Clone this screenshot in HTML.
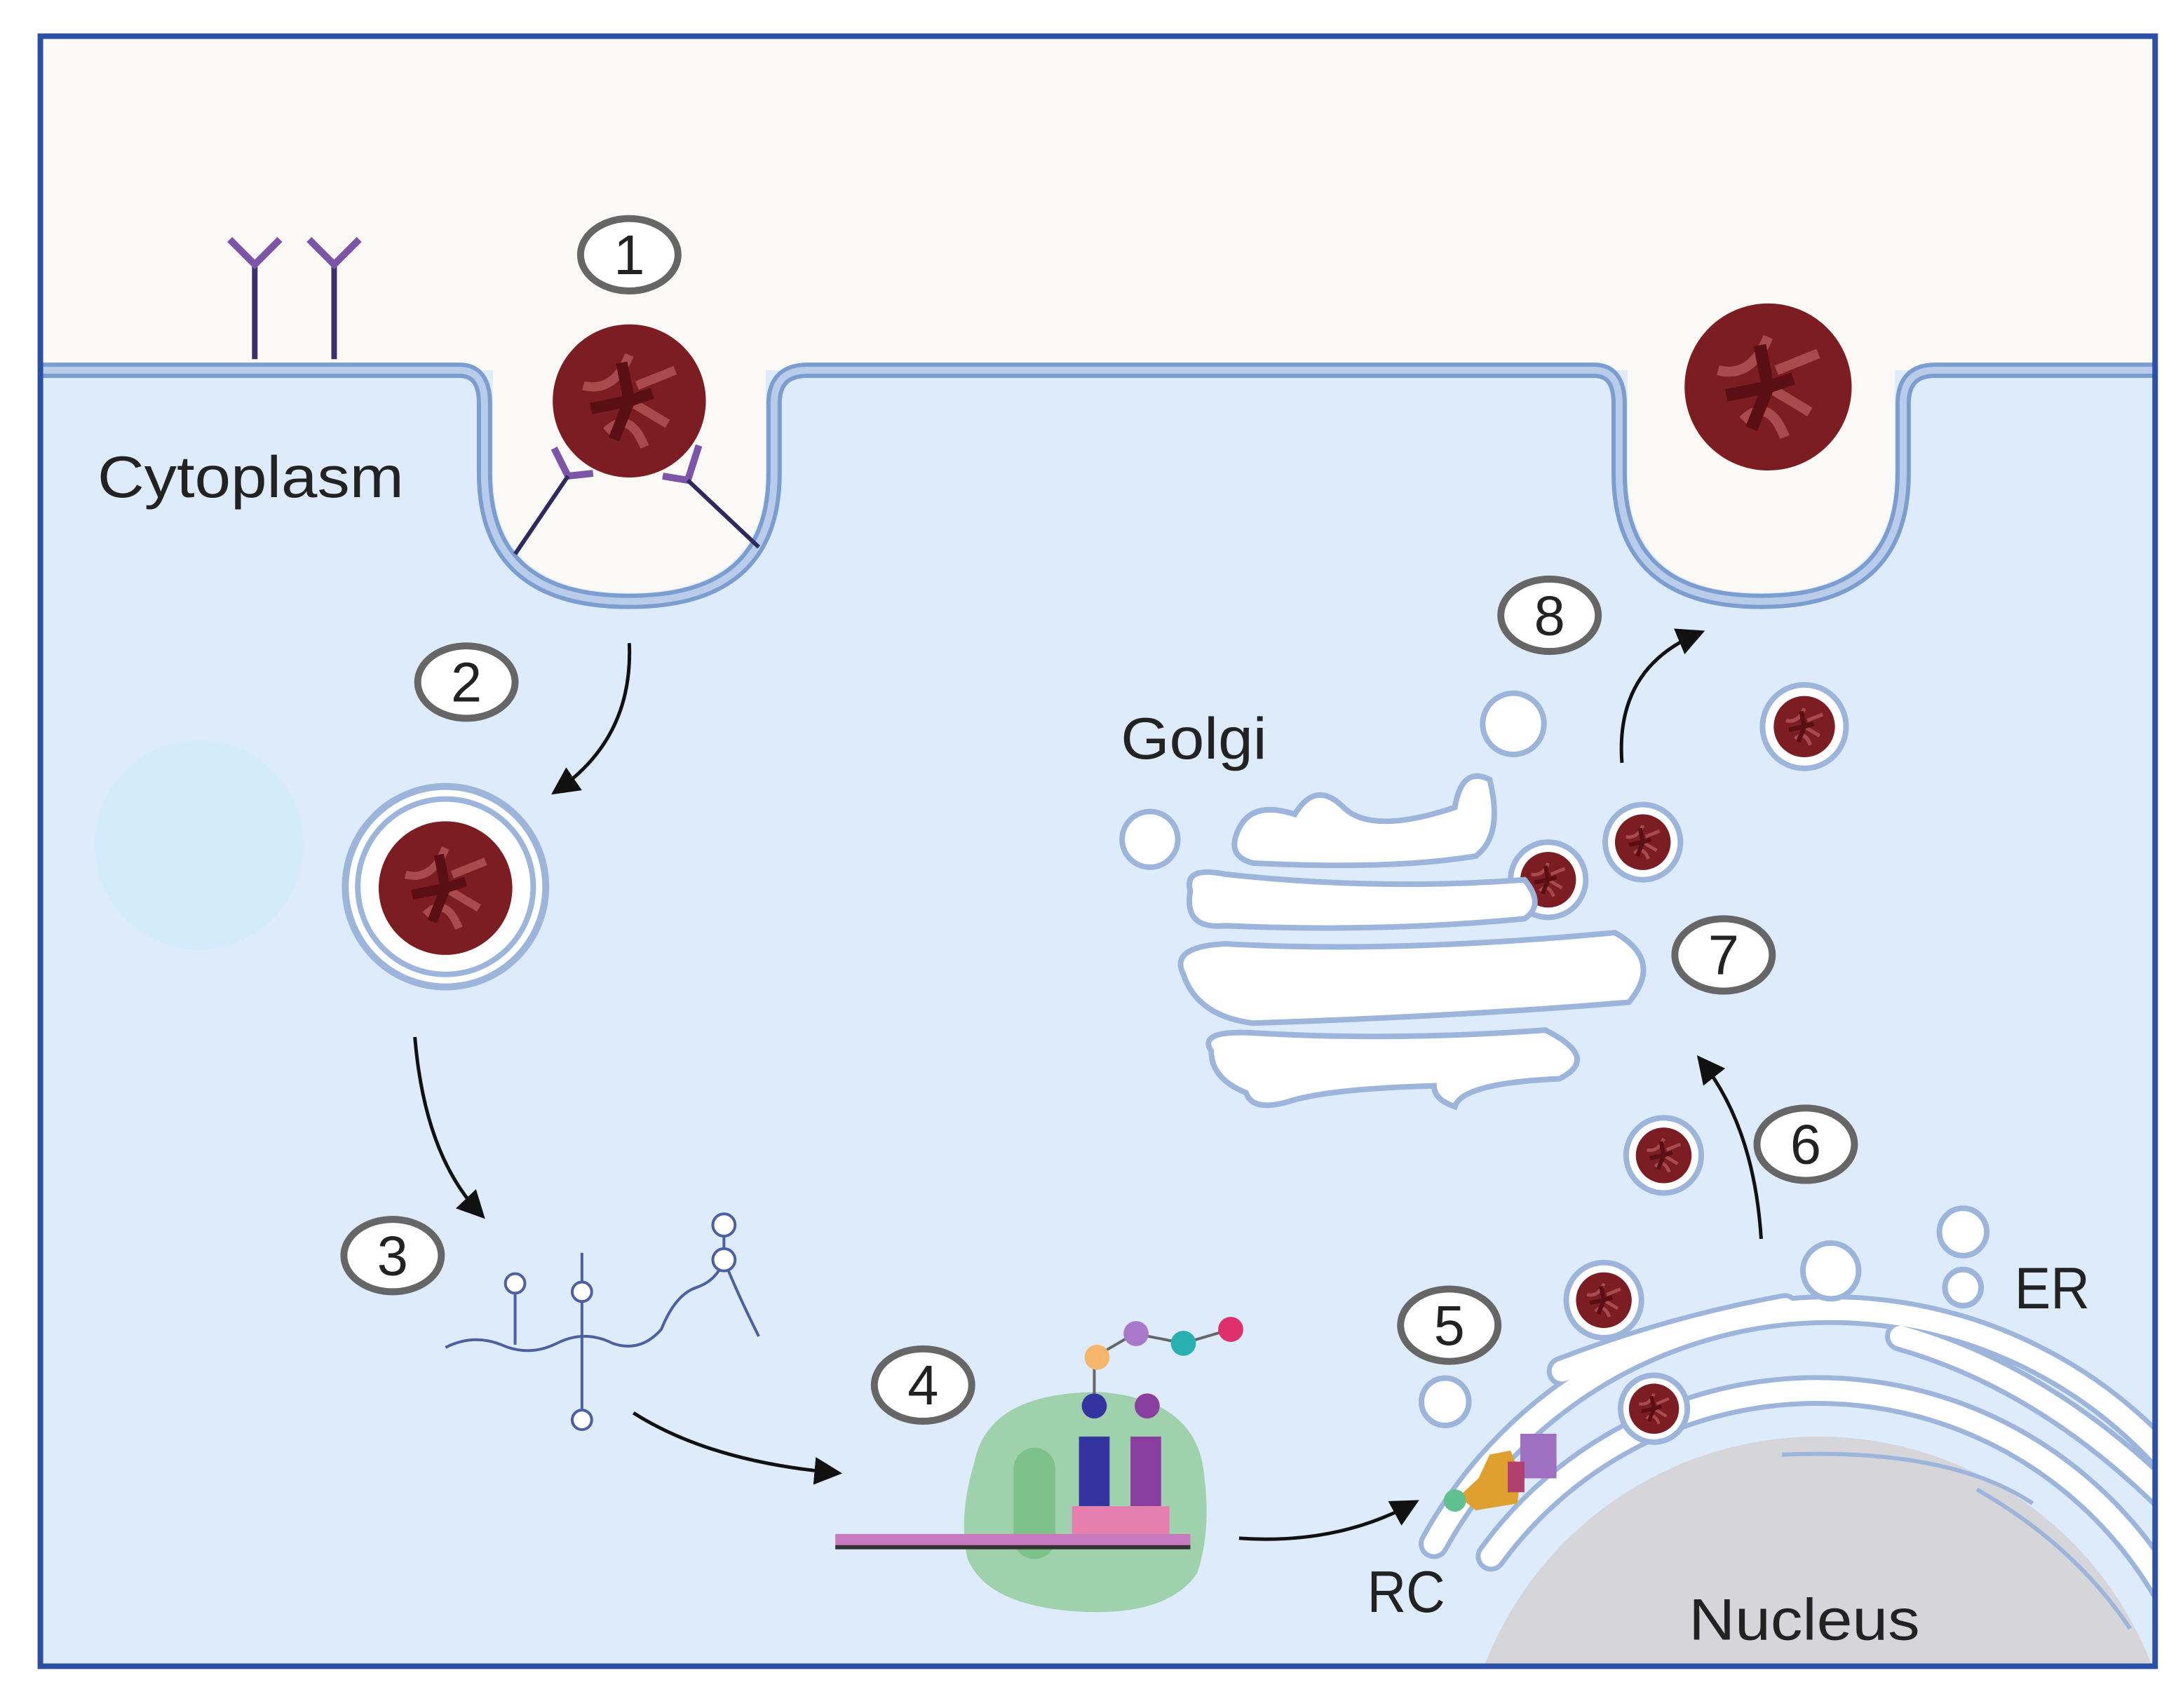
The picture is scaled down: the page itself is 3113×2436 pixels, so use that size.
<!DOCTYPE html>
<html><head><meta charset="utf-8"><style>html,body{margin:0;padding:0;background:#fff;overflow:hidden;width:3113px;height:2436px}svg{display:block}</style></head>
<body>
<svg width="3113" height="2436" viewBox="0 0 1568 1227" xmlns="http://www.w3.org/2000/svg" font-family="Liberation Sans, sans-serif">
<defs>
<marker id="ah" markerWidth="8" markerHeight="8" refX="6" refY="4" orient="auto" markerUnits="strokeWidth"><path d="M0,0 L8,4 L0,8 Z" fill="#111"/></marker>
<g id="virus"><circle r="1" fill="#7b1d22"/><path d="M-0.6,-0.2 Q-0.2,-0.1 0,-0.6 M0,0 L0.5,0.3 M-0.3,0.4 Q0,0.1 0.2,0.6 M0.1,-0.2 L0.6,-0.4" stroke="#a84a4e" stroke-width="0.12" fill="none"/><path d="M-0.5,0.1 L0,0 L0.3,-0.1 M-0.1,-0.5 L0,0 L-0.2,0.5" stroke="#5a0f14" stroke-width="0.15" fill="none"/></g>
<clipPath id="cl"><rect x="29" y="26" width="1519" height="1169"/></clipPath>
</defs>
<rect x="0" y="0" width="1568" height="1227" fill="#fff"/>
<rect x="29" y="26" width="1519" height="1171" fill="#deebfb"/>
<rect x="29" y="26" width="1519" height="240" fill="#fbf9f5"/>
<path d="M354,260 V340 Q354,426 452,426 Q550,426 550,340 V260 Z" fill="#fbf9f5"/>
<path d="M1169,260 V340 Q1169,426 1265,426 Q1361,426 1361,340 V260 Z" fill="#fbf9f5"/>
<!-- membrane -->
<path d="M29,266 H330 Q348,266 348,290 V340 Q348,432 452,432 Q556,432 556,340 V290 Q556,266 580,266 H1145 Q1163,266 1163,290 V340 Q1163,432 1265,432 Q1367,432 1367,340 V290 Q1367,266 1390,266 H1548" fill="none" stroke="#7c9dcf" stroke-width="11"/>
<path d="M29,266 H330 Q348,266 348,290 V340 Q348,432 452,432 Q556,432 556,340 V290 Q556,266 580,266 H1145 Q1163,266 1163,290 V340 Q1163,432 1265,432 Q1367,432 1367,340 V290 Q1367,266 1390,266 H1548" fill="none" stroke="#b9cdea" stroke-width="5"/>
<!-- receptors -->
<g stroke="#3c2f6b" stroke-width="4" fill="none">
<path d="M183,258 V190 M240,258 V190"/>
</g>
<g stroke="#7c55a8" stroke-width="5" fill="none">
<path d="M165,172 L183,190 L201,172 M222,172 L240,190 L258,172"/>
<path d="M398,322 L408,342 L426,340 M502,320 L494,345 L476,342"/>
</g>
<path d="M370,398 L408,342 M545,393 L494,345" stroke="#2e2a5e" stroke-width="3"/>
<use href="#virus" transform="translate(452,288) scale(55)"/>
<use href="#virus" transform="translate(1270,278) scale(60)"/>
<circle cx="143" cy="607" r="75" fill="#d3ebfb"/>
<!-- endosome -->
<circle cx="320" cy="637" r="72" fill="#fff" stroke="#9db5da" stroke-width="5"/>
<circle cx="320" cy="637" r="63" fill="#fff" stroke="#9db5da" stroke-width="4"/>
<use href="#virus" transform="translate(320,638) scale(48)"/>
<!-- RNA -->
<g stroke="#4c5fa2" stroke-width="2" fill="none">
<path d="M320,968 Q340,958 360,966 Q380,975 400,965 Q420,955 440,965 Q460,972 475,955 Q485,930 500,925 Q515,920 520,905 M520,905 Q530,930 545,960"/>
<path d="M370,966 V930 M418,900 V1020 M520,905 V880"/>
<circle cx="370" cy="922" r="7" fill="#fff"/><circle cx="418" cy="928" r="7" fill="#fff"/><circle cx="418" cy="1020" r="7" fill="#fff"/><circle cx="520" cy="880" r="8" fill="#fff"/><circle cx="520" cy="905" r="8" fill="#fff"/>
</g>
<!-- ribosome -->
<path d="M700,1050 Q710,1000 790,1000 Q860,1005 865,1060 Q870,1100 860,1130 Q840,1160 780,1158 Q710,1155 695,1120 Q688,1090 700,1050 Z" fill="#8fcb9a" opacity="0.8"/>
<rect x="728" y="1040" width="30" height="80" rx="15" fill="#7ec28b"/>
<rect x="600" y="1102" width="255" height="10" fill="#c87ac0"/>
<rect x="600" y="1110" width="255" height="3" fill="#333"/>
<rect x="775" y="1032" width="22" height="50" fill="#3533a0"/><circle cx="786" cy="1010" r="9" fill="#3533a0"/>
<rect x="812" y="1032" width="22" height="50" fill="#8a3ea0"/><circle cx="824" cy="1010" r="9" fill="#8a3ea0"/>
<rect x="770" y="1082" width="70" height="20" fill="#e47fb0"/>
<g stroke="#666" stroke-width="2" fill="none"><path d="M786,1001 V975 M786,975 L815,958 L850,965 L884,955"/></g>
<circle cx="788" cy="975" r="9" fill="#f5b56a"/><circle cx="816" cy="958" r="9" fill="#a978c8"/><circle cx="850" cy="965" r="9" fill="#2ab0b0"/><circle cx="884" cy="955" r="9" fill="#e0306c"/>
<!-- nucleus + ER -->
<g clip-path="url(#cl)">
<circle cx="1306" cy="1289" r="257" fill="#d6d6da"/>
<g fill="none" stroke="#9db5da" stroke-width="22" stroke-linecap="round">
<path d="M1071,1118 A290,290 0 0 1 1581,1199"/>
<path d="M1030,1109 A325,325 0 0 1 1615,1390"/>
<path d="M1122,985 Q1200,955 1282,940"/>
<path d="M1365,960 Q1470,990 1560,1080"/>
</g>
<g fill="none" stroke="#fff" stroke-width="15" stroke-linecap="round">
<path d="M1071,1118 A290,290 0 0 1 1581,1199"/>
<path d="M1030,1109 A325,325 0 0 1 1615,1390"/>
<path d="M1122,985 Q1200,955 1282,940"/>
<path d="M1365,960 Q1470,990 1560,1080"/>
</g>
<path d="M1280,1045 Q1400,1040 1460,1080 M1420,1070 Q1490,1110 1530,1170" fill="none" stroke="#9db5da" stroke-width="3"/>
</g>
<g fill="#fff" stroke="#9db5da" stroke-width="4">
<circle cx="1410" cy="885" r="17"/><circle cx="1410" cy="925" r="13"/><circle cx="1315" cy="913" r="20"/><circle cx="1038" cy="1007" r="17"/>
<circle cx="1152" cy="934" r="27"/><circle cx="1188" cy="1012" r="24"/>
<circle cx="1195" cy="830" r="27"/><circle cx="1296" cy="522" r="30"/><circle cx="1180" cy="605" r="27"/><circle cx="1112" cy="632" r="27"/>
<circle cx="1087" cy="520" r="22"/><circle cx="826" cy="603" r="20"/>
</g>
<use href="#virus" transform="translate(1152,934) scale(20)"/>
<use href="#virus" transform="translate(1188,1012) scale(18)"/>
<use href="#virus" transform="translate(1195,830) scale(20)"/>
<use href="#virus" transform="translate(1296,522) scale(22)"/>
<use href="#virus" transform="translate(1180,605) scale(20)"/>
<use href="#virus" transform="translate(1112,632) scale(20)"/>
<!-- RC proteins -->
<path d="M1048,1075 L1062,1062 L1070,1045 L1085,1042 L1092,1060 L1090,1080 L1060,1085 Z" fill="#e0a030"/>
<rect x="1092" y="1030" width="26" height="32" fill="#a070c0"/>
<rect x="1083" y="1050" width="12" height="22" fill="#b04070"/>
<circle cx="1045" cy="1078" r="8" fill="#60c090"/>
<!-- Golgi -->
<g fill="#fff" stroke="#9db5da" stroke-width="4">
<path d="M890,595 Q900,575 930,585 Q945,560 965,580 Q985,600 1045,580 Q1050,550 1070,560 Q1080,600 1060,615 Q1000,625 900,620 Q880,615 890,595 Z"/>
<path d="M855,640 Q850,622 880,628 Q990,640 1095,632 Q1110,650 1095,660 Q990,670 880,665 Q850,668 855,640 Z"/>
<path d="M850,700 Q840,680 880,678 Q1000,685 1160,670 Q1195,690 1170,720 Q1050,730 900,735 Q860,730 850,700 Z"/>
<path d="M870,755 Q860,740 900,742 Q1000,748 1110,740 Q1150,760 1120,775 Q1050,778 1045,795 Q1030,790 1030,780 Q960,782 930,790 Q900,800 895,785 Q870,775 870,755 Z"/>
</g>
<!-- arrows -->
<g fill="none" stroke="#111" stroke-width="2.5" marker-end="url(#ah)">
<path d="M452,462 Q455,530 400,568"/>
<path d="M298,745 Q305,830 345,872"/>
<path d="M455,1015 Q510,1050 600,1058"/>
<path d="M890,1105 Q960,1110 1015,1080"/>
<path d="M1265,890 Q1260,810 1222,762"/>
<path d="M1165,548 Q1160,480 1220,455"/>
</g>
<!-- numbers -->
<g fill="#fff" stroke="#666" stroke-width="5">
<ellipse cx="452" cy="183" rx="35" ry="26"/><ellipse cx="335" cy="490" rx="35" ry="26"/>
<ellipse cx="282" cy="902" rx="35" ry="26"/><ellipse cx="663" cy="995" rx="35" ry="26"/>
<ellipse cx="1041" cy="952" rx="35" ry="26"/><ellipse cx="1297" cy="822" rx="35" ry="26"/>
<ellipse cx="1238" cy="686" rx="35" ry="26"/><ellipse cx="1113" cy="442" rx="35" ry="26"/>
</g>
<g font-size="40" text-anchor="middle" fill="#222">
<text x="452" y="197">1</text><text x="335" y="504">2</text><text x="282" y="916">3</text><text x="663" y="1009">4</text>
<text x="1041" y="966">5</text><text x="1297" y="836">6</text><text x="1238" y="700">7</text><text x="1113" y="456">8</text>
</g>
<g font-size="42" fill="#222">
<text x="70" y="357" textLength="220" lengthAdjust="spacingAndGlyphs">Cytoplasm</text>
<text x="805" y="545" textLength="105" lengthAdjust="spacingAndGlyphs">Golgi</text>
<text x="1447" y="940" textLength="54" lengthAdjust="spacingAndGlyphs">ER</text>
<text x="982" y="1158" textLength="56" lengthAdjust="spacingAndGlyphs">RC</text>
<text x="1213" y="1178" textLength="166" lengthAdjust="spacingAndGlyphs">Nucleus</text>
</g>
<rect x="29" y="26" width="1519" height="1171" fill="none" stroke="#2c4fa6" stroke-width="4"/>
</svg>
</body></html>
